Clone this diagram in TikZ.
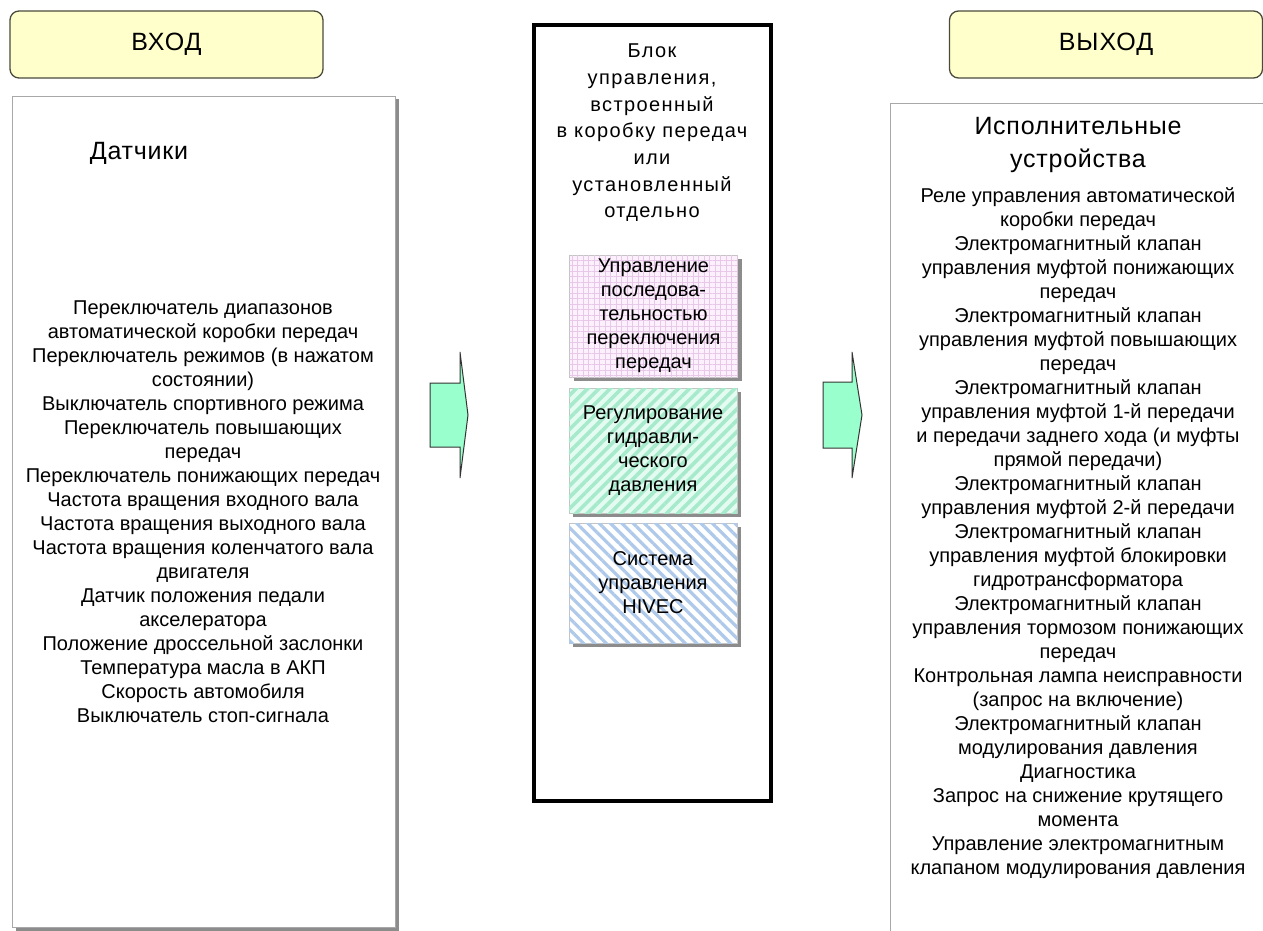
\documentclass[tikz,border=0pt]{standalone}
\usepackage{fontspec}
\setmainfont{Liberation Sans}
\usetikzlibrary{patterns.meta,shadows,calc}
\definecolor{hdrfill}{HTML}{FFFFCC}
\definecolor{hdrline}{HTML}{4A4A3C}
\definecolor{arrfill}{HTML}{99FFCC}
\definecolor{panelline}{HTML}{A8A8A8}
\definecolor{shadowgray}{HTML}{8C8C8C}
\definecolor{pinkbg}{HTML}{FCF0FC}
\definecolor{pinkgrid}{HTML}{E8C8E8}
\definecolor{greenbg}{HTML}{E4FBF1}
\definecolor{greenstripe}{HTML}{A6EACB}
\definecolor{bluebg}{HTML}{FFFFFF}
\definecolor{bluestripe}{HTML}{AFC9EA}
\definecolor{innerline}{HTML}{C4C4C4}
\begin{document}
\begin{tikzpicture}[x=1pt,y=-1pt,
  hdr/.style={draw=hdrline, line width=1.3pt, fill=hdrfill, rounded corners=9pt,
    minimum width=313pt, minimum height=67pt, font=\fontsize{25}{30}\selectfont\addfontfeatures{LetterSpace=4}, inner sep=0pt},
  panel/.style={draw=panelline, line width=0.8pt, fill=white, inner sep=0pt,
    drop shadow={shadow xshift=3.5pt, shadow yshift=-3.5pt, fill=shadowgray, opacity=1}},
  listtxt/.style={align=center, font=\fontsize{20}{24}\selectfont, inner sep=0pt},
  midtxt/.style={align=center, font=\fontsize{20}{26.7}\selectfont\addfontfeatures{LetterSpace=7}, inner sep=0pt},
  titletxt/.style={align=center, font=\fontsize{25}{33}\selectfont\addfontfeatures{LetterSpace=3}, inner sep=0pt},
  inner/.style={draw=innerline, line width=0.6pt, minimum width=168pt, inner sep=0pt,
    align=center, font=\fontsize{20}{24}\selectfont,
    drop shadow={shadow xshift=4pt, shadow yshift=-3.5pt, fill=shadowgray, opacity=1}},
  blockarrow/.style={draw=black!80, line width=1pt, fill=arrfill, line join=miter}
]
\useasboundingbox (0,0) rectangle (1263,931);
\clip (0,0) rectangle (1263,931);
\fill[white] (0,0) rectangle (1263,931);

% headers
\node[hdr] (inhdr) at (166.5,44.5) {ВХОД};
\node[hdr] (outhdr) at (1106,44.5) {ВЫХОД};

% left panel
\node[panel, minimum width=383pt, minimum height=831pt] (inbox) at (203.5,511.5) {};
\node[titletxt] (intitle) at (139,153) {Датчики};
\node[listtxt] (inlist) at (203,512) {Переключатель диапазонов\\
автоматической коробки передач\\
Переключатель режимов (в нажатом\\
состоянии)\\
Выключатель спортивного режима\\
Переключатель повышающих\\
передач\\
Переключатель понижающих передач\\
Частота вращения входного вала\\
Частота вращения выходного вала\\
Частота вращения коленчатого вала\\
двигателя\\
Датчик положения педали\\
акселератора\\
Положение дроссельной заслонки\\
Температура масла в АКП\\
Скорость автомобиля\\
Выключатель стоп-сигнала};

% middle block
\node[draw=black, line width=4pt, fill=white, minimum width=237pt, minimum height=776pt, inner sep=0pt,
  drop shadow={shadow xshift=2pt, shadow yshift=-2pt, fill=black!35, opacity=1}] (ctrl) at (652.5,413) {};
\node[midtxt] (ctrltxt) at (652,133) {Блок\\управления,\\встроенный\\в коробку передач\\или\\установленный\\отдельно};

\node[inner, minimum height=122pt, fill=pinkbg,
  postaction={pattern={Hatch[angle=0,distance=5.5pt,line width=0.5pt]}, pattern color=pinkgrid}]
  (seq) at (653.5,316) {Управление\\последова-\\тельностью\\переключения\\передач};
\node[inner, minimum height=125pt, fill=greenbg,
  postaction={pattern={Lines[angle=45,distance=8pt,line width=3.6pt]}, pattern color=greenstripe}]
  (hyd) at (653,450.5) {Регулирование\\гидравли-\\ческого\\давления};
\node[inner, minimum height=120pt, fill=bluebg,
  postaction={pattern={Lines[angle=-45,distance=8pt,line width=3.2pt]}, pattern color=bluestripe}]
  (hivec) at (653,583) {Система\\управления\\HIVEC};

% right panel
\node[draw=panelline, line width=0.8pt, fill=white, minimum width=400pt, minimum height=860pt,
  inner sep=0pt, anchor=north west] (outbox) at (890,103) {};
\node[titletxt] (outtitle) at (1078,145) {Исполнительные\\устройства};
\node[listtxt] (outlist) at (1078,533) {Реле управления автоматической\\
коробки передач\\
Электромагнитный клапан\\
управления муфтой понижающих\\
передач\\
Электромагнитный клапан\\
управления муфтой повышающих\\
передач\\
Электромагнитный клапан\\
управления муфтой 1-й передачи\\
и передачи заднего хода (и муфты\\
прямой передачи)\\
Электромагнитный клапан\\
управления муфтой 2-й передачи\\
Электромагнитный клапан\\
управления муфтой блокировки\\
гидротрансформатора\\
Электромагнитный клапан\\
управления тормозом понижающих\\
передач\\
Контрольная лампа неисправности\\
(запрос на включение)\\
Электромагнитный клапан\\
модулирования давления\\
Диагностика\\
Запрос на снижение крутящего\\
момента\\
Управление электромагнитным\\
клапаном модулирования давления};

% block arrows
\coordinate (a1) at (430,415);
\coordinate (a2) at (823,415);
\draw[blockarrow] ($(a1)+(0,-32)$) -- ++(30,0) -- ++(0,-31) -- ($(a1)+(38,0)$) -- ($(a1)+(30,63)$) -- ++(0,-31) -- ++(-30,0) -- cycle;
\draw[blockarrow] ($(a2)+(0,-33)$) -- ++(29,0) -- ++(0,-30) -- ($(a2)+(39,0)$) -- ($(a2)+(29,63)$) -- ++(0,-30) -- ++(-29,0) -- cycle;
\end{tikzpicture}
\end{document}
